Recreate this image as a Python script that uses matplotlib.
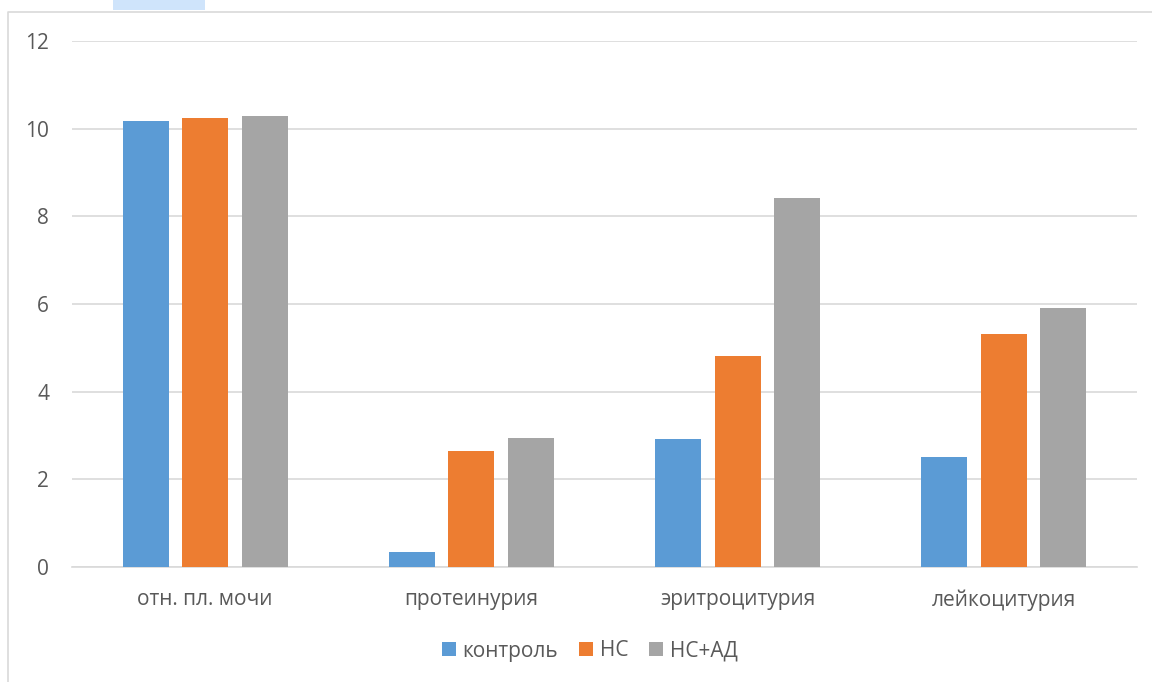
import matplotlib
matplotlib.use("Agg")
import matplotlib.pyplot as plt
import numpy as np
from matplotlib.patches import Rectangle
from matplotlib.lines import Line2D

plt.rcParams['font.family'] = ['Open Sans', 'DejaVu Sans']

categories = ["отн. пл. мочи", "протеинурия", "эритроцитурия", "лейкоцитурия"]
series_names = ["контроль", "НС", "НС+АД"]
control = [10.18, 0.34, 2.92, 2.51]
ns = [10.24, 2.65, 4.81, 5.32]
ns_ad = [10.29, 2.94, 8.42, 5.91]
colors = ["#5b9bd5", "#ed7d31", "#a5a5a5"]
yticks = [0, 2, 4, 6, 8, 10, 12]

W, H = 1152, 682
fig = plt.figure(figsize=(W / 100, H / 100), dpi=100)

# chart frame (partially visible border)
fig.add_artist(Line2D([8 / W, 8 / W, 1.0], [0.0, 1 - 12 / H, 1 - 12 / H],
                      transform=fig.transFigure, color="#d9d9d9", lw=1.2))
# highlight fragment from page above the chart
fig.add_artist(Rectangle((113 / W, 1 - 10 / H), 92 / W, 10 / H,
                         transform=fig.transFigure, color="#cfe4fb", lw=0))

ax = fig.add_axes([72 / W, 115 / H, (1137 - 72) / W, (567 - 41) / H])
x = np.arange(len(categories))
bw = 0.173
step = 0.2235
for i, (vals, c, name) in enumerate(zip([control, ns, ns_ad], colors, series_names)):
    ax.bar(x + (i - 1) * step, vals, width=bw, color=c, label=name, zorder=3)

ax.set_xlim(-0.5, len(categories) - 0.5)
ax.set_ylim(0, 12)
ax.set_yticks(yticks)
ax.set_yticklabels([str(t) for t in yticks])
ax.set_xticks(x)
ax.set_xticklabels(categories)
ax.grid(axis="y", color="#d9d9d9", lw=1.2, zorder=0)
for s in ["top", "right", "left"]:
    ax.spines[s].set_visible(False)
ax.spines["bottom"].set_color("#d9d9d9")
ax.spines["bottom"].set_linewidth(1.2)
ax.tick_params(axis="both", length=0, colors="#595959", labelsize=15)
ax.tick_params(axis="y", pad=16.5)
ax.tick_params(axis="x", pad=16)

leg = fig.legend(loc="center", bbox_to_anchor=(590 / W, 1 - 651 / H), ncol=3,
                 frameon=False, fontsize=15, handlelength=0.67, handleheight=0.67,
                 handletextpad=0.33, columnspacing=1.0)
for t in leg.get_texts():
    t.set_color("#595959")

fig.savefig("out.png", dpi=100)
